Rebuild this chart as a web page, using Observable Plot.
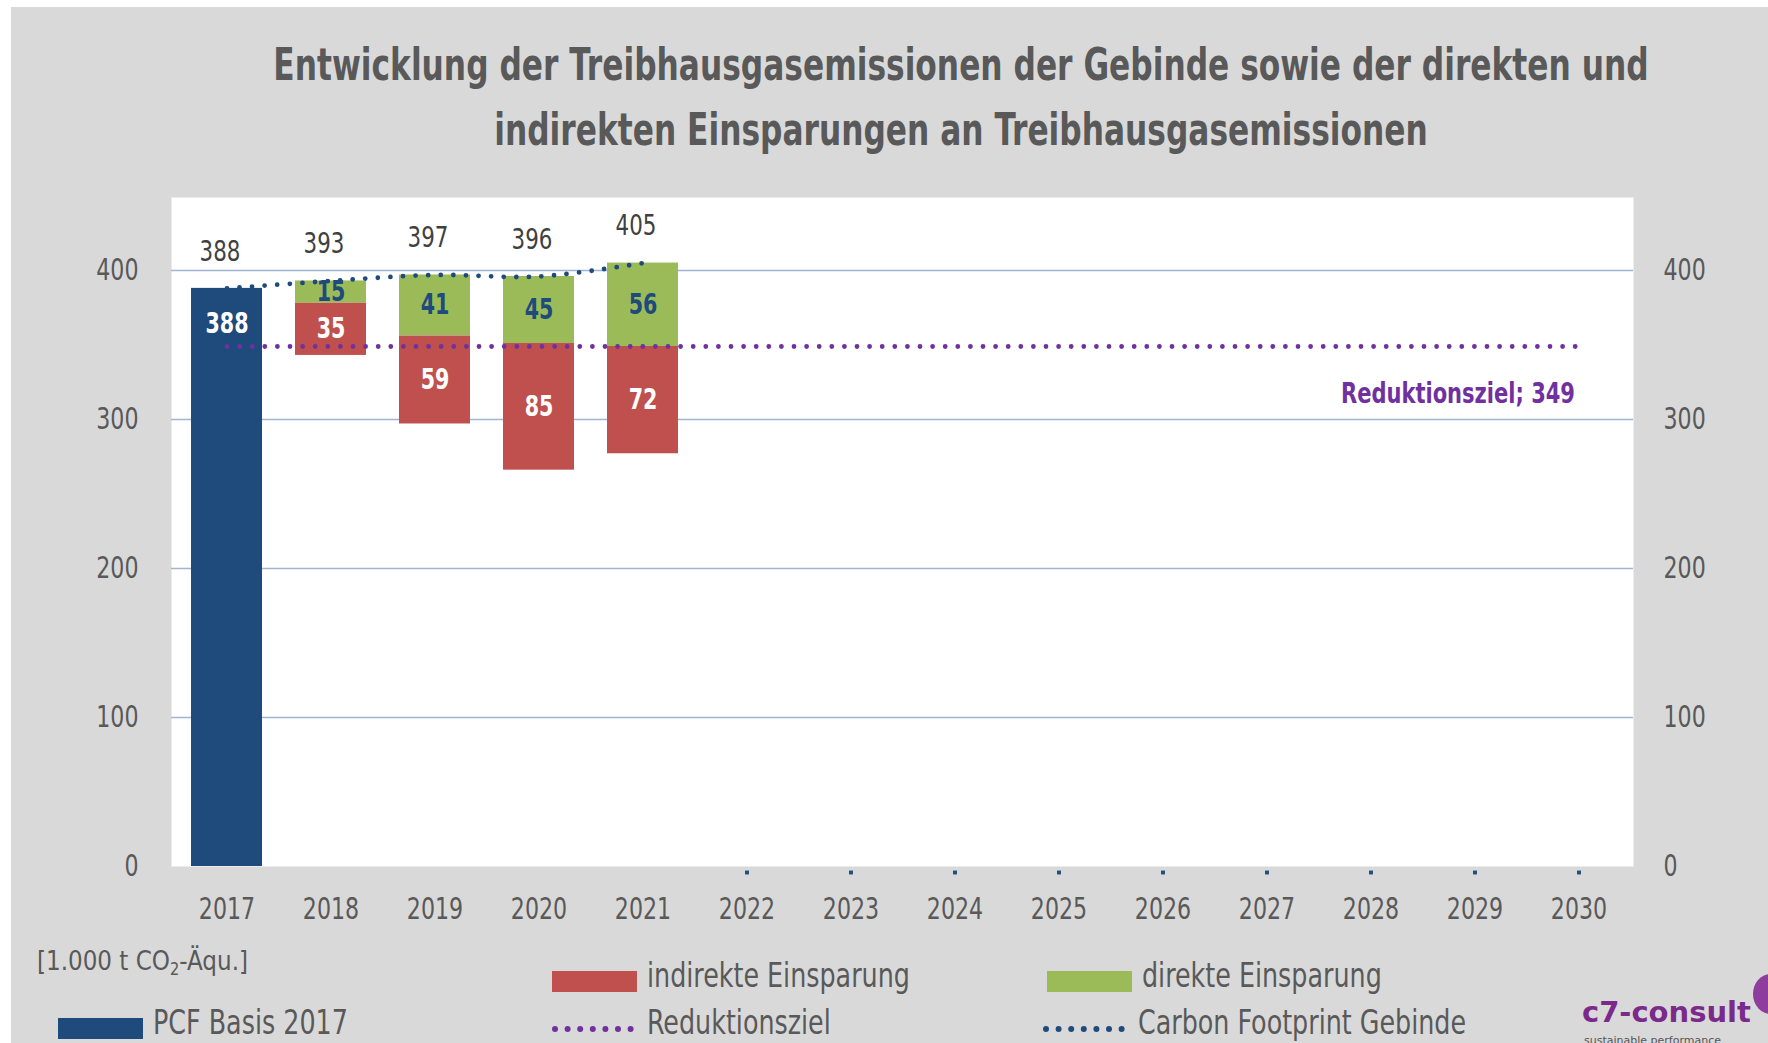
<!DOCTYPE html>
<html>
<head>
<meta charset="utf-8">
<script src="https://cdn.jsdelivr.net/npm/d3@7"></script>
<script src="https://cdn.jsdelivr.net/npm/@observablehq/plot@0.6"></script>
<style>
  html, body { margin: 0; padding: 0; background: #ffffff; }
  body { width: 1768px; height: 1043px; overflow: hidden; position: relative;
         font-family: "Liberation Sans Narrow", "DejaVu Sans Condensed", "Liberation Sans", sans-serif; color: #595959; }
  #bg { position: absolute; left: 11px; top: 7px; right: 0; bottom: 0; background: #d9d9d9; }
  #title { position: absolute; left: 11px; width: 1900px; top: 32px; text-align: center; white-space: nowrap;
           font-size: 44px; line-height: 65px; font-weight: bold; color: #595959;
           transform: scaleX(0.79); transform-origin: 950px 0; }
  #chart { position: absolute; left: 0; top: 190px; }
  .lg { position: absolute; font-size: 33px; line-height: 34px; white-space: nowrap; color: #595959;
        transform: scaleX(0.855); transform-origin: 0 0; }
  .sw { position: absolute; width: 85px; height: 21px; }
  .dl { position: absolute; }
  #unit { position: absolute; left: 37px; top: 947px; font-size: 27px; line-height: 27px; white-space: nowrap;
          transform: scaleX(0.95); transform-origin: 0 0; }
  #unit sub { font-size: 17px; vertical-align: -5px; line-height: 0; }
  #logo { position: absolute; left: 1582px; top: 998px; font-family: "DejaVu Sans", sans-serif; font-weight: bold;
          font-size: 29px; line-height: 29px; color: #7b2a8c; white-space: nowrap; }
  #logo2 { position: absolute; left: 1584px; top: 1034px; font-family: "DejaVu Sans", sans-serif;
           font-size: 11px; color: #555; white-space: nowrap; }
  #icon { position: absolute; left: 1753px; top: 974px; width: 36px; height: 40px; border-radius: 50%; background: #8e3d9e; }
</style>
</head>
<body>
<div id="bg"></div>
<div id="title">Entwicklung der Treibhausgasemissionen der Gebinde sowie der direkten und<br>indirekten Einsparungen an Treibhausgasemissionen</div>
<div id="chart"></div>
<div id="unit">[1.000 t CO<sub>2</sub>-Äqu.]</div>
<div id="legend"></div>
<div id="logo">c7-consult</div>
<div id="logo2">sustainable performance</div>
<div id="icon"></div>
<script>
// ---- data ----
const years = ["2017","2018","2019","2020","2021","2022","2023","2024","2025","2026","2027","2028","2029","2030"];
const footprintYears = ["2017","2018","2019","2020","2021"];
const footprint = [388, 393, 397, 396, 405];          // Carbon Footprint Gebinde
const emptyYears = ["2022","2023","2024","2025","2026","2027","2028","2029","2030"];
const emptyValues = [0, 0, 0, 0, 0, 0, 0, 0, 0];
const baseYear = "2017";
const pcfBasis = 388;                                   // PCF Basis 2017
const savingYears = ["2018","2019","2020","2021"];
const directSaving = [15, 41, 45, 56];                  // direkte Einsparung
const indirectSaving = [35, 59, 85, 72];                // indirekte Einsparung
const targetValue = 349;                                // Reduktionsziel
const targetLabel = "Reduktionsziel";
const yTicks = [0, 100, 200, 300, 400];
const yMax = 449;

// ---- colours ----
const C_BLUE = "#1f4a7c", C_RED = "#c0504d", C_GREEN = "#9bbb59", C_PURPLE = "#7030a0", C_TEXT = "#595959";
const FONT = '"Liberation Sans Narrow", "DejaVu Sans Condensed", "Liberation Sans", sans-serif';

// ---- tables ----
const fp = footprintYears.map((year, i) => ({year, v: footprint[i]}));
const empties = emptyYears.map((year, i) => ({year, v: emptyValues[i]}));
const base = [{year: baseYear, v: pcfBasis}];
const savings = savingYears.map((year, i) => {
  const top = footprint[footprintYears.indexOf(year)];
  const mid = top - directSaving[i];
  const bot = mid - indirectSaving[i];
  return {year, top, mid, bot, direct: directSaving[i], indirect: indirectSaving[i],
          dLab: (top + mid) / 2, iLab: (mid + bot) / 2};
});
const target = years.map(year => ({year, v: targetValue}));
const targetText = [{year: years[years.length - 1], v: targetValue, t: `${targetLabel}; ${targetValue}`}];

const chart = Plot.plot({
  width: 1768,
  height: 745,
  marginLeft: 171,
  marginRight: 135,
  marginTop: 7,
  marginBottom: 69,
  style: {fontFamily: FONT, fontSize: "30px", color: C_TEXT, background: "transparent", overflow: "visible"},
  x: {type: "band", domain: years, paddingInner: 0.32, paddingOuter: 0.16, label: null},
  y: {domain: [0, yMax], label: null},
  marks: [
    Plot.frame({fill: "white", stroke: "none"}),
    Plot.gridY(yTicks.filter(d => d > 0), {stroke: "#9fb5d2", strokeOpacity: 1, strokeWidth: 1.5}),
    Plot.barY(base, {x: "year", y: "v", fill: C_BLUE}),
    Plot.barY(savings, {x: "year", y1: "mid", y2: "top", fill: C_GREEN}),
    Plot.barY(savings, {x: "year", y1: "bot", y2: "mid", fill: C_RED}),
    Plot.text(base, {x: "year", y: "v", text: d => String(d.v), dy: 36, fill: "white", fontWeight: "bold", fontSize: 28}),
    Plot.text(savings, {x: "year", y: "dLab", text: d => String(d.direct), fill: C_BLUE, fontWeight: "bold", fontSize: 28}),
    Plot.text(savings, {x: "year", y: "iLab", text: d => String(d.indirect), fill: "white", fontWeight: "bold", fontSize: 28}),
    Plot.text(fp, {x: "year", y: "v", text: d => String(d.v), dy: -37, dx: -7, fill: "#404040", fontSize: 29}),
    Plot.lineY(target, {x: "year", y: "v", stroke: C_PURPLE, strokeWidth: 4.8, strokeDasharray: "0 12.6", strokeLinecap: "round"}),
    Plot.text(targetText, {x: "year", y: "v", text: "t", textAnchor: "end", dx: -4, dy: 47, fill: C_PURPLE, fontWeight: "bold", fontSize: 28.5}),
    Plot.line(fp, {x: "year", y: "v", curve: "catmull-rom", stroke: C_BLUE, strokeWidth: 4.8, strokeDasharray: "0 12.6", strokeLinecap: "round"}),
    Plot.dot(empties, {x: "year", y: "v", symbol: "square", r: 2.2, fill: C_BLUE, stroke: "none", dy: 6}),
    Plot.axisY(yTicks, {anchor: "left", tickSize: 0, tickPadding: 33, fontSize: 30, label: null}),
    Plot.axisY(yTicks, {anchor: "right", tickSize: 0, tickPadding: 30, fontSize: 30, label: null}),
    Plot.axisX({tickSize: 0, tickPadding: 31, fontSize: 30, label: null})
  ]
});
// condensed look of the reference font: squeeze every chart text horizontally about its anchor
const SQUEEZE = 0.82;
chart.querySelectorAll("text").forEach(t => {
  const x = +(t.getAttribute("x") || 0);
  const tr = t.getAttribute("transform") || "";
  t.setAttribute("transform", `${tr} translate(${x},0) scale(${SQUEEZE},1) translate(${-x},0)`);
});
document.getElementById("chart").appendChild(chart);

// ---- legend ----
const legendItems = [
  {label: "indirekte Einsparung", kind: "swatch", color: C_RED, x: 552, y: 971},
  {label: "direkte Einsparung", kind: "swatch", color: C_GREEN, x: 1047, y: 971},
  {label: "PCF Basis 2017", kind: "swatch", color: C_BLUE, x: 58, y: 1018},
  {label: "Reduktionsziel", kind: "dots", color: C_PURPLE, x: 552, y: 1018},
  {label: "Carbon Footprint Gebinde", kind: "dots", color: C_BLUE, x: 1043, y: 1018}
];
const lg = document.getElementById("legend");
for (const it of legendItems) {
  if (it.kind === "swatch") {
    const s = document.createElement("div");
    s.className = "sw";
    s.style.left = it.x + "px"; s.style.top = it.y + "px"; s.style.background = it.color;
    lg.appendChild(s);
  } else {
    const ns = "http://www.w3.org/2000/svg";
    const svg = document.createElementNS(ns, "svg");
    svg.setAttribute("width", 90); svg.setAttribute("height", 21);
    svg.setAttribute("class", "dl");
    svg.style.left = it.x + "px"; svg.style.top = it.y + "px";
    const ln = document.createElementNS(ns, "line");
    ln.setAttribute("x1", 3); ln.setAttribute("x2", 80); ln.setAttribute("y1", 11); ln.setAttribute("y2", 11);
    ln.setAttribute("stroke", it.color); ln.setAttribute("stroke-width", 6);
    ln.setAttribute("stroke-linecap", "round"); ln.setAttribute("stroke-dasharray", "0 12.6");
    svg.appendChild(ln);
    lg.appendChild(svg);
  }
  const t = document.createElement("div");
  t.className = "lg";
  t.textContent = it.label;
  t.style.left = (it.x + 95) + "px";
  t.style.top = (it.y - 12) + "px";
  lg.appendChild(t);
}
</script>
</body>
</html>
